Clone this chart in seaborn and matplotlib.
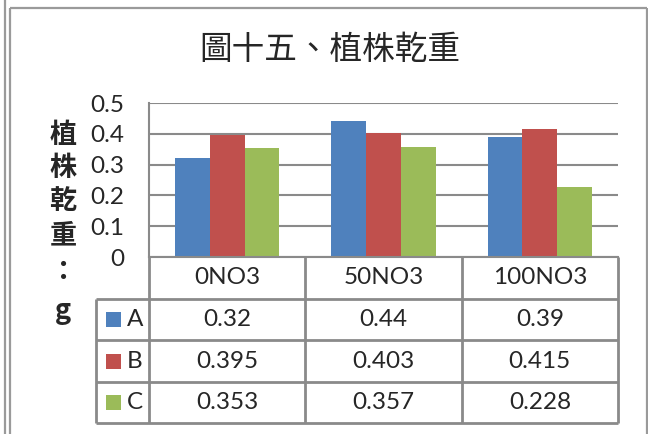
import matplotlib
matplotlib.use("Agg")
import matplotlib.pyplot as plt
import seaborn as sns
import pandas as pd
from matplotlib.patches import Rectangle

# Data
categories = ["0NO3", "50NO3", "100NO3"]
series_names = ["A", "B", "C"]
values_a = [0.32, 0.44, 0.39]
values_b = [0.395, 0.403, 0.415]
values_c = [0.353, 0.357, 0.228]
series_colors = ["#4F81BD", "#C0504D", "#9BBB59"]
y_ticks = [0, 0.1, 0.2, 0.3, 0.4, 0.5]
title_text = "圖十五、植株乾重"
ylabel_chars = ["植", "株", "乾", "重", "：", "g"]

sns.set_style("white")
plt.rcParams["font.family"] = ["Lato", "Noto Sans CJK TC", "DejaVu Sans"]

W, H = 648, 434
fig = plt.figure(figsize=(W / 100, H / 100), dpi=100)
fig.patch.set_facecolor("white")

LINE = "#8a8a8a"
TXT = 17.5

def fx(x):
    return x / W

def fy(y):
    return 1 - y / H

# Plot area (pixel layout)
PL, PR, PT, PB = 149, 618, 103, 257
ax = fig.add_axes([fx(PL), fy(PB), (PR - PL) / W, (PB - PT) / H])

series_values = [values_a, values_b, values_c]
df = pd.DataFrame({
    "category": [c for _ in series_names for c in categories],
    "series": [s for s in series_names for _ in categories],
    "value": [v for vals in series_values for v in vals],
})

sns.barplot(data=df, x="category", y="value", hue="series",
            order=categories, hue_order=series_names,
            palette=series_colors, saturation=1, width=0.667, gap=0,
            linewidth=0, edgecolor="none", errorbar=None, legend=False, ax=ax)

ax.set_xlim(-0.5, len(categories) - 0.5)
ax.set_ylim(0, 0.5)
ax.set_yticks(y_ticks)
ax.set_yticklabels([f"{t:g}" for t in y_ticks], fontsize=TXT)
ax.yaxis.grid(True, color=LINE, linewidth=1.5)
ax.set_axisbelow(True)
ax.tick_params(axis="y", length=0, pad=18)
ax.set_xticks([])
ax.set_xlabel("")
ax.set_ylabel("")
for side in ["top", "right"]:
    ax.spines[side].set_visible(False)
for side in ["left", "bottom"]:
    ax.spines[side].set_color(LINE)
    ax.spines[side].set_linewidth(1.5)
ax.set_facecolor("white")

# Overlay in pixel coordinates for frame, title, axis title and data table
ov = fig.add_axes([0, 0, 1, 1])
ov.set_xlim(0, W)
ov.set_ylim(H, 0)
ov.axis("off")

def hline(y, x0, x1, lw=1.5, color=LINE):
    ov.plot([x0, x1], [y, y], color=color, lw=lw, solid_capstyle="butt")

def vline(x, y0, y1, lw=1.5, color=LINE):
    ov.plot([x, x], [y0, y1], color=color, lw=lw, solid_capstyle="butt")

# Chart frame
vline(5, 0, H, lw=1.6, color="#9a9a9a")
vline(10, 8, H, lw=1.6, color="#9a9a9a")
hline(8, 10, 647, lw=1.6, color="#9a9a9a")
vline(647, 8, H, lw=1.6, color="#9a9a9a")

# Title
ov.text(330, 50, title_text, ha="center", va="center", fontsize=23.5,
        family=["Noto Sans CJK TC", "DejaVu Sans"])

# Vertical axis title, one character per line
label_y = [135, 168, 201, 235, 272, 311]
for ch, y in zip(ylabel_chars, label_y):
    ov.text(63, y, ch, ha="center", va="center", fontsize=19.5,
            fontweight="bold", family=["Noto Sans CJK TC", "DejaVu Sans"])

# Data table
col_edges = [PL + (PR - PL) * i / len(categories) for i in range(len(categories) + 1)]
row_edges = [PB, 299, 340, 382, 423]
KEY_L = 96

for x in col_edges:
    vline(x, PB, row_edges[-1], lw=2)
vline(KEY_L, row_edges[1], row_edges[-1], lw=2)
for y in row_edges[1:]:
    hline(y, KEY_L, PR, lw=2)

for j, cat in enumerate(categories):
    cx = (col_edges[j] + col_edges[j + 1]) / 2
    ov.text(cx, (row_edges[0] + row_edges[1]) / 2, cat, ha="center",
            va="center", fontsize=TXT)

for i, (name, vals, color) in enumerate(zip(series_names, series_values, series_colors)):
    cy = (row_edges[i + 1] + row_edges[i + 2]) / 2
    ov.add_patch(Rectangle((106, cy - 7.5), 15, 15, facecolor=color, edgecolor="none"))
    ov.text(127, cy, name, ha="left", va="center", fontsize=TXT)
    for j, v in enumerate(vals):
        cx = (col_edges[j] + col_edges[j + 1]) / 2
        ov.text(cx, cy, f"{v:g}", ha="center", va="center", fontsize=TXT)

fig.savefig("out.png", dpi=100, facecolor="white")
